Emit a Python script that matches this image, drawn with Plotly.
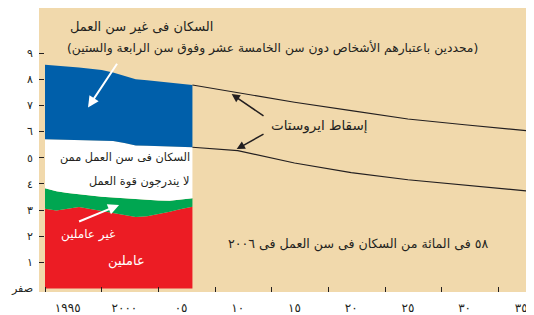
import plotly.graph_objects as go

# ---- data ----
years = list(range(1993, 2007))
workers = [3.05, 2.98, 3.05, 3.12, 3.04, 2.96, 2.88, 2.80, 2.74, 2.76, 2.84, 2.94, 3.04, 3.13]
unemployed = [0.78, 0.74, 0.60, 0.48, 0.51, 0.55, 0.60, 0.65, 0.68, 0.64, 0.53, 0.42, 0.36, 0.32]
inactive = [1.88, 1.98, 2.04, 2.08, 2.12, 2.15, 2.16, 2.11, 2.05, 2.06, 2.08, 2.08, 2.03, 1.95]
non_working_age = [2.84, 2.82, 2.79, 2.77, 2.73, 2.69, 2.62, 2.56, 2.53, 2.50, 2.47, 2.44, 2.40, 2.38]

proj_years = [2006, 2010, 2015, 2020, 2025, 2030, 2035, 2036]
proj_total = [7.78, 7.48, 7.12, 6.80, 6.48, 6.26, 6.06, 6.01]
proj_working_age = [5.40, 5.27, 4.80, 4.43, 4.16, 3.95, 3.76, 3.71]

y_tick_vals = [0, 1, 2, 3, 4, 5, 6, 7, 8, 9]
y_tick_text = ["صفر", "١", "٢", "٣", "٤", "٥", "٦", "٧", "٨", "٩"]
x_label_vals = [1995, 2000, 2005, 2010, 2015, 2020, 2025, 2030, 2035]
x_label_text = ["١٩٩٥", "٢٠٠٠", "٠٥", "١٠", "١٥", "٢٠", "٢٥", "٣٠", "٣٥"]
x_tick_marks = [1993, 1998, 2003, 2008, 2013, 2018, 2023, 2028, 2033]

FONT = "DejaVu Sans"
BEIGE = "#F1D9AC"
RED = "#EC1C24"
GREEN = "#00A651"
BLUE = "#005FAA"
INK = "#231F20"

fig = go.Figure()
for vals, col in [(workers, RED), (unemployed, GREEN), (inactive, "#FFFFFF"), (non_working_age, BLUE)]:
    fig.add_trace(go.Scatter(x=years, y=vals, stackgroup="s", mode="lines",
                             line=dict(width=0, color=col), fillcolor=col,
                             hoverinfo="skip", showlegend=False))

for vals in (proj_total, proj_working_age):
    fig.add_trace(go.Scatter(x=proj_years, y=vals, mode="lines",
                             line=dict(width=1.1, color=INK),
                             hoverinfo="skip", showlegend=False))

def txt(x, y, s, color=INK, size=12, xanchor="center", align="center"):
    fig.add_annotation(x=x, y=y, xref="x", yref="y", text=s, showarrow=False,
                       xanchor=xanchor, yanchor="middle", align=align,
                       font=dict(family=FONT, size=size, color=color))

def arrow(x0, y0, x1, y1, color, width):
    fig.add_annotation(x=x1, y=y1, ax=x0, ay=y0, xref="x", yref="y", axref="x", ayref="y",
                       text="", showarrow=True, arrowhead=2, arrowsize=1.1,
                       arrowwidth=width, arrowcolor=color)

txt(1995.0, 9.99, "السكان فى غير سن العمل", xanchor="left", size=13)
txt(1994.8, 9.19, "(محددين باعتبارهم الأشخاص دون سن الخامسة عشر وفوق سن الرابعة والستين)", xanchor="left", size=12.3)
txt(2006.0, 4.99, "السكان فى سن العمل ممن", xanchor="right", size=11.3)
txt(2006.0, 4.07, "لا يندرجون قوة العمل", xanchor="right", size=11.3)
txt(1996.75, 2.05, "غير عاملين", color="#FFFFFF")
txt(2000.2, 1.05, "عاملين", color="#FFFFFF", size=13)
txt(2017.2, 6.22, "إسقاط ايروستات", size=13.5)
txt(2020.6, 1.70, "٥٨ فى المائة من السكان فى سن العمل فى ٢٠٠٦", size=12.6)

arrow(1999.44, 8.65, 1996.79, 6.92, "#FFFFFF", 2)
arrow(1995.87, 2.54, 1999.53, 3.19, "#FFFFFF", 2)
arrow(2012.4, 6.56, 2009.46, 7.43, INK, 1.5)
arrow(2012.4, 5.93, 2009.9, 5.33, INK, 1.5)

# the page body keeps an 8px margin, so the figure is sized to fit inside the window
fig.update_layout(
    width=526, height=307,
    margin=dict(l=31, r=0, t=0, b=23, autoexpand=False),
    paper_bgcolor="#FFFFFF", plot_bgcolor=BEIGE,
    font=dict(family=FONT, color=INK),
    showlegend=False,
    xaxis=dict(range=[1992.47, 2036.12], showgrid=False, zeroline=False, automargin=False,
               showline=False, tickvals=x_label_vals, ticktext=x_label_text,
               ticks="", tickfont=dict(size=12, family=FONT, color=INK),
               ticklabelstandoff=7,
               minor=dict(tickvals=x_tick_marks, ticks="inside", ticklen=5,
                          tickcolor=INK, tickwidth=1, showgrid=False)),
    yaxis=dict(range=[-0.13, 10.72], showgrid=False, zeroline=False, automargin=False,
               showline=False, tickvals=y_tick_vals, ticktext=y_tick_text,
               ticks="", tickfont=dict(size=11, family=FONT, color=INK),
               ticklabelstandoff=5,
               minor=dict(tickvals=y_tick_vals[1:], ticks="inside", ticklen=5,
                          tickcolor=INK, tickwidth=1, showgrid=False)),
)

fig.write_html("out.html")
